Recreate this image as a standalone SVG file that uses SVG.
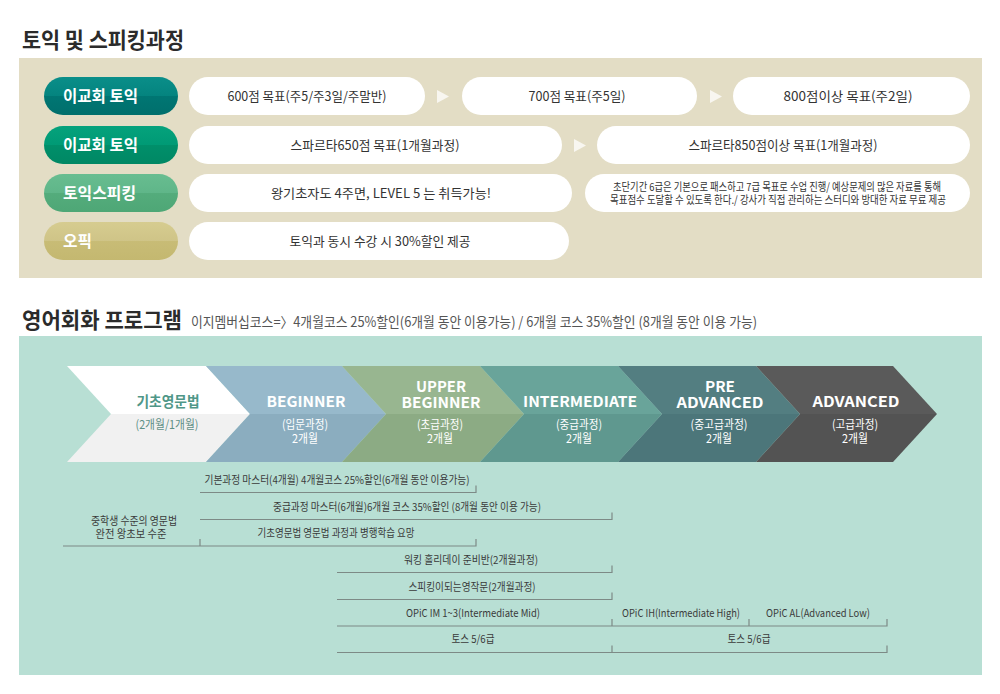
<svg xmlns="http://www.w3.org/2000/svg" width="1000" height="694" viewBox="0 0 1000 694">
<defs>
<linearGradient id="g1" x1="0" y1="0" x2="0" y2="1"><stop offset="0" stop-color="#0a8e89"/><stop offset="0.5" stop-color="#04847f"/><stop offset="0.5" stop-color="#007673"/><stop offset="1" stop-color="#006f6c"/></linearGradient>
<linearGradient id="g2" x1="0" y1="0" x2="0" y2="1"><stop offset="0" stop-color="#05a27c"/><stop offset="0.5" stop-color="#009a75"/><stop offset="0.5" stop-color="#008f6a"/><stop offset="1" stop-color="#008864"/></linearGradient>
<linearGradient id="g3" x1="0" y1="0" x2="0" y2="1"><stop offset="0" stop-color="#68bd90"/><stop offset="0.5" stop-color="#5fb689"/><stop offset="0.5" stop-color="#54ac7c"/><stop offset="1" stop-color="#4ea776"/></linearGradient>
<linearGradient id="g4" x1="0" y1="0" x2="0" y2="1"><stop offset="0" stop-color="#d6cc90"/><stop offset="0.5" stop-color="#cfc487"/><stop offset="0.5" stop-color="#c8bc76"/><stop offset="1" stop-color="#c4b870"/></linearGradient>
</defs>
<style>
text{font-family:"Noto Sans CJK KR","Noto Sans",sans-serif;}
.h{font-size:22px;font-weight:bold;fill:#2b2b2b;}
.sub{font-size:14px;fill:#555;}
.lab{font-size:16px;font-weight:bold;fill:#fff;}
.pill{fill:#fff;}
.pt{font-size:13px;fill:#333;text-anchor:middle;}
.ps{font-size:11px;fill:#333;text-anchor:middle;}
.tri{fill:#f8f6f0;}
.ct{font-size:15px;font-weight:bold;fill:#fff;text-anchor:middle;}
.cs{font-size:12px;fill:#fff;text-anchor:middle;}
.bt{font-size:11px;fill:#3a3a3a;text-anchor:middle;}
.ln{fill:none;stroke:#7d8a86;stroke-width:1.2;}
</style>
<rect width="1000" height="694" fill="#fff"/>
<text class="h" x="22" y="48" textLength="162" lengthAdjust="spacingAndGlyphs">토익 및 스피킹과정</text>
<rect x="19" y="58" width="963" height="220" fill="#e3ddc5"/>

<g id="row1">
<rect x="44" y="77" width="134" height="38" rx="19" fill="url(#g1)"/>
<text class="lab" x="63" y="102" textLength="75" lengthAdjust="spacingAndGlyphs">이교회 토익</text>
<rect class="pill" x="189" y="77" width="236" height="38" rx="19"/>
<text class="pt" x="307" y="101" textLength="159" lengthAdjust="spacingAndGlyphs">600점 목표(주5/주3일/주말반)</text>
<polygon class="tri" points="437,90 449,96.5 437,103"/>
<rect class="pill" x="462" y="77" width="235" height="38" rx="19"/>
<text class="pt" x="577" y="101" textLength="97" lengthAdjust="spacingAndGlyphs">700점 목표(주5일)</text>
<polygon class="tri" points="710,90 722,96.5 710,103"/>
<rect class="pill" x="733" y="77" width="237" height="38" rx="19"/>
<text class="pt" x="848" y="101" textLength="129" lengthAdjust="spacingAndGlyphs">800점이상 목표(주2일)</text>
</g>

<g id="row2">
<rect x="44" y="126" width="134" height="38" rx="19" fill="url(#g2)"/>
<text class="lab" x="63" y="151" textLength="75" lengthAdjust="spacingAndGlyphs">이교회 토익</text>
<rect class="pill" x="189" y="126" width="373" height="38" rx="19"/>
<text class="pt" x="375" y="150" textLength="169" lengthAdjust="spacingAndGlyphs">스파르타650점 목표(1개월과정)</text>
<polygon class="tri" points="574,139 586,145.5 574,152"/>
<rect class="pill" x="597" y="126" width="373" height="38" rx="19"/>
<text class="pt" x="783" y="150" textLength="189" lengthAdjust="spacingAndGlyphs">스파르타850점이상 목표(1개월과정)</text>
</g>

<g id="row3">
<rect x="44" y="174" width="134" height="38" rx="19" fill="url(#g3)"/>
<text class="lab" x="63" y="199" textLength="73" lengthAdjust="spacingAndGlyphs">토익스피킹</text>
<rect class="pill" x="189" y="174" width="383" height="38" rx="19"/>
<text class="pt" x="381" y="198" textLength="220" lengthAdjust="spacingAndGlyphs">왕기초자도 4주면, LEVEL 5 는 취득가능!</text>
<rect class="pill" x="585" y="174" width="385" height="38" rx="19"/>
<text class="ps" x="777" y="191" textLength="328" lengthAdjust="spacingAndGlyphs">초단기간 6급은 기본으로 패스하고 7급 목표로 수업 진행/ 예상문제의 많은 자료를 통해</text>
<text class="ps" x="778" y="204" textLength="336" lengthAdjust="spacingAndGlyphs">목표점수 도달할 수 있도록 한다./ 강사가 직접 관리하는 스터디와 방대한 자료 무료 제공</text>
</g>

<g id="row4">
<rect x="44" y="222" width="134" height="38" rx="19" fill="url(#g4)"/>
<text class="lab" x="63" y="247" textLength="29" lengthAdjust="spacingAndGlyphs">오픽</text>
<rect class="pill" x="189" y="222" width="380" height="38" rx="19"/>
<text class="pt" x="380" y="246" textLength="181" lengthAdjust="spacingAndGlyphs">토익과 동시 수강 시 30%할인 제공</text>
</g>

<text class="h" x="22" y="328" textLength="160" lengthAdjust="spacingAndGlyphs">영어회화 프로그램</text>
<text class="sub" x="191" y="327" textLength="566" lengthAdjust="spacingAndGlyphs">이지멤버십코스=〉4개월코스  25%할인(6개월 동안 이용가능) / 6개월 코스 35%할인 (8개월 동안 이용 가능)</text>
<rect x="19" y="336" width="963" height="339" fill="#b8dfd4"/>

<g id="c1">
<polygon points="67,366 206,366 250,414 111,414" fill="#ffffff"/>
<polygon points="111,414 250,414 206,462 67,462" fill="#f1f1f1"/>
<text class="ct" x="168" y="407" style="fill:#4f9788" textLength="63" lengthAdjust="spacingAndGlyphs">기초영문법</text>
<text class="cs" x="167" y="429" style="fill:#5e8f86" textLength="63" lengthAdjust="spacingAndGlyphs">(2개월/1개월)</text>
</g>
<g id="c2">
<polygon points="206,366 342,366 386,414 250,414" fill="#97b9cb"/>
<polygon points="250,414 386,414 342,462 206,462" fill="#8badbf"/>
<text class="ct" x="306" y="407" textLength="79" lengthAdjust="spacingAndGlyphs">BEGINNER</text>
<text class="cs" x="305" y="429" textLength="46" lengthAdjust="spacingAndGlyphs">(입문과정)</text>
<text class="cs" x="305" y="443" textLength="26" lengthAdjust="spacingAndGlyphs">2개월</text>
</g>
<g id="c3">
<polygon points="342,366 480,366 524,414 386,414" fill="#98b690"/>
<polygon points="386,414 524,414 480,462 342,462" fill="#8cab84"/>
<text class="ct" x="441" y="392" textLength="50" lengthAdjust="spacingAndGlyphs">UPPER</text>
<text class="ct" x="441" y="408" textLength="79" lengthAdjust="spacingAndGlyphs">BEGINNER</text>
<text class="cs" x="440" y="429" textLength="46" lengthAdjust="spacingAndGlyphs">(초급과정)</text>
<text class="cs" x="440" y="443" textLength="26" lengthAdjust="spacingAndGlyphs">2개월</text>
</g>
<g id="c4">
<polygon points="480,366 618,366 662,414 524,414" fill="#69a49a"/>
<polygon points="524,414 662,414 618,462 480,462" fill="#5f988f"/>
<text class="ct" x="580" y="407" textLength="114" lengthAdjust="spacingAndGlyphs">INTERMEDIATE</text>
<text class="cs" x="579" y="429" textLength="46" lengthAdjust="spacingAndGlyphs">(중급과정)</text>
<text class="cs" x="579" y="443" textLength="26" lengthAdjust="spacingAndGlyphs">2개월</text>
</g>
<g id="c5">
<polygon points="618,366 756,366 800,414 662,414" fill="#537e81"/>
<polygon points="662,414 800,414 756,462 618,462" fill="#4c767a"/>
<text class="ct" x="720" y="392" textLength="30" lengthAdjust="spacingAndGlyphs">PRE</text>
<text class="ct" x="720" y="408" textLength="87" lengthAdjust="spacingAndGlyphs">ADVANCED</text>
<text class="cs" x="719" y="429" textLength="57" lengthAdjust="spacingAndGlyphs">(중고급과정)</text>
<text class="cs" x="719" y="443" textLength="26" lengthAdjust="spacingAndGlyphs">2개월</text>
</g>
<g id="c6">
<polygon points="756,366 893,366 937,414 800,414" fill="#5a5a5a"/>
<polygon points="800,414 937,414 893,462 756,462" fill="#535353"/>
<text class="ct" x="856" y="407" textLength="87" lengthAdjust="spacingAndGlyphs">ADVANCED</text>
<text class="cs" x="855" y="429" textLength="46" lengthAdjust="spacingAndGlyphs">(고급과정)</text>
<text class="cs" x="855" y="443" textLength="26" lengthAdjust="spacingAndGlyphs">2개월</text>
</g>

<g id="connectors">
<path class="ln" d="M200,492.5 H476 V485.5"/>
<path class="ln" d="M200,519.5 H612 V512.5"/>
<path class="ln" d="M63,546 H476 V539 M200,546 V539"/>
<path class="ln" d="M337,572.5 H612 V565.5"/>
<path class="ln" d="M337,599.5 H612 V592.5"/>
<path class="ln" d="M337,626 H887 V619 M612,626 V619 M749,626 V619"/>
<path class="ln" d="M337,652.5 H887 V645.5 M612,652.5 V645.5"/>
</g>

<g id="bottom-labels">
<text class="bt" x="337" y="484" textLength="265" lengthAdjust="spacingAndGlyphs">기본과정 마스터(4개월) 4개월코스  25%할인(6개월 동안 이용가능)</text>
<text class="bt" x="407" y="511" textLength="268" lengthAdjust="spacingAndGlyphs">중급과정 마스터(6개월)6개월 코스 35%할인 (8개월 동안 이용 가능)</text>
<text class="bt" x="134" y="525" textLength="86" lengthAdjust="spacingAndGlyphs">중학생 수준의 영문법</text>
<text class="bt" x="131" y="538" textLength="71" lengthAdjust="spacingAndGlyphs">완전 왕초보 수준</text>
<text class="bt" x="336" y="537" textLength="157" lengthAdjust="spacingAndGlyphs">기초영문법 영문법 과정과 병행학습 요망</text>
<text class="bt" x="471" y="564" textLength="134" lengthAdjust="spacingAndGlyphs">워킹 홀리데이 준비반(2개월과정)</text>
<text class="bt" x="472" y="591" textLength="127" lengthAdjust="spacingAndGlyphs">스피킹이되는영작문(2개월과정)</text>
<text class="bt" x="473" y="617" textLength="134" lengthAdjust="spacingAndGlyphs">OPiC IM 1~3(Intermediate Mid)</text>
<text class="bt" x="681" y="617" textLength="118" lengthAdjust="spacingAndGlyphs">OPiC IH(Intermediate High)</text>
<text class="bt" x="818" y="617" textLength="104" lengthAdjust="spacingAndGlyphs">OPiC AL(Advanced Low)</text>
<text class="bt" x="473" y="643" textLength="43" lengthAdjust="spacingAndGlyphs">토스 5/6급</text>
<text class="bt" x="749" y="643" textLength="43" lengthAdjust="spacingAndGlyphs">토스 5/6급</text>
</g>
</svg>
